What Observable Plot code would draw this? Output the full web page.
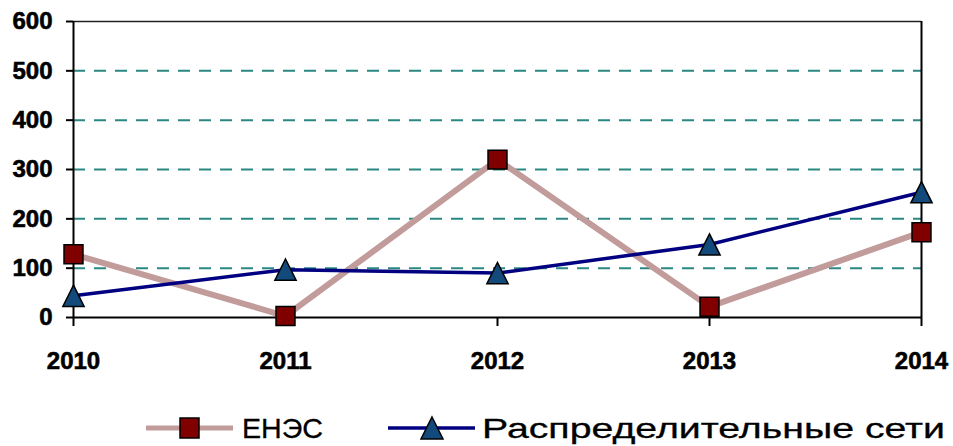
<!DOCTYPE html>
<html>
<head>
<meta charset="utf-8">
<script src="https://cdn.jsdelivr.net/npm/d3@7"></script>
<script src="https://cdn.jsdelivr.net/npm/@observablehq/plot@0.6"></script>
<style>
  html, body { margin: 0; padding: 0; background: #fff; }
  #wrap { position: relative; width: 953px; height: 446px; overflow: hidden; font-family: "Liberation Sans", Arial, sans-serif; }
  #legend { position: absolute; left: 0; top: 400px; width: 953px; height: 46px; }
  #legend svg { position: absolute; left: 0; top: 0; }
  #chart text { stroke: #000; stroke-width: 0.6px; }
  #legend text { stroke: #000; stroke-width: 0.3px; }
</style>
</head>
<body>
<div id="wrap">
  <div id="chart"></div>
  <div id="legend"></div>
</div>
<script>
const years = ["2010", "2011", "2012", "2013", "2014"];
const enes = [128, 3, 320, 22, 173];
const distrib = [44, 97, 90, 148, 254];
const yTicks = [0, 100, 200, 300, 400, 500, 600];
const seriesNames = ["ЕНЭС", "Распределительные сети"];

const enesData = years.map((y, i) => ({year: y, value: enes[i]}));
const distData = years.map((y, i) => ({year: y, value: distrib[i]}));

const enesLine = "#c29b9b";
const enesFill = "#800000";
const distLine = "#000080";
const distFill = "#134a7c";
const gridColor = "#2a8781";

// bbox-centered triangle
const triSymbol = {
  draw(ctx, size) {
    const w = Math.sqrt(size) * 1.5;
    const h = w * 1.0;
    ctx.moveTo(0, -h / 2);
    ctx.lineTo(w / 2, h / 2);
    ctx.lineTo(-w / 2, h / 2);
    ctx.closePath();
  }
};

const chart = Plot.plot({
  width: 953,
  height: 400,
  marginLeft: 73,
  marginRight: 32,
  marginTop: 21,
  marginBottom: 83,
  style: {fontFamily: "'Liberation Sans', Arial, sans-serif", background: "#fff", overflow: "visible"},
  x: {type: "point", domain: years, padding: 0},
  y: {domain: [0, 600]},
  marks: [
    Plot.gridY(yTicks.filter(d => d > 0 && d < 600), {stroke: gridColor, strokeOpacity: 1, strokeWidth: 2, strokeDasharray: "12,9"}),
    Plot.ruleY([600], {stroke: "#222", strokeWidth: 1.5}),
    Plot.ruleY([0], {stroke: "#000", strokeWidth: 2}),
    Plot.ruleX([years[0], years[years.length - 1]], {y1: 600, y2: 0, stroke: "#000", strokeWidth: 2}),
    Plot.axisY({ticks: yTicks, tickSize: 7, tickPadding: 14, fontSize: 24, fontWeight: "bold", fill: "#000", tickFormat: d => String(d), label: null, strokeWidth: 2}),
    Plot.axisX({tickSize: 9, tickPadding: 25, fontSize: 24, fontWeight: "bold", fill: "#000", label: null, strokeWidth: 2}),
    Plot.line(enesData, {x: "year", y: "value", stroke: enesLine, strokeWidth: 6}),
    Plot.line(distData, {x: "year", y: "value", stroke: distLine, strokeWidth: 3.5}),
    Plot.dot(enesData, {x: "year", y: "value", symbol: "square", r: 10.7, fill: enesFill, stroke: "#000", strokeWidth: 1.5}),
    Plot.dot(distData, {x: "year", y: "value", symbol: triSymbol, r: 8, fill: distFill, stroke: "#000", strokeWidth: 1.5})
  ]
});
document.getElementById("chart").appendChild(chart);

// Legend
const lg = d3.select("#legend").append("svg").attr("width", 953).attr("height", 46);
// ЕНЭС
lg.append("line").attr("x1", 146).attr("x2", 233).attr("y1", 28).attr("y2", 28).attr("stroke", enesLine).attr("stroke-width", 5);
lg.append("rect").attr("x", 180).attr("y", 18).attr("width", 19).attr("height", 20).attr("fill", enesFill).attr("stroke", "#000").attr("stroke-width", 1.5);
lg.append("text").attr("x", 242).attr("y", 38).attr("font-size", 28).attr("font-family", "'Liberation Sans', Arial, sans-serif").attr("fill", "#000").attr("textLength", 81).attr("lengthAdjust", "spacingAndGlyphs").text(seriesNames[0]);
// Распределительные сети
lg.append("line").attr("x1", 388).attr("x2", 475).attr("y1", 28).attr("y2", 28).attr("stroke", distLine).attr("stroke-width", 3.5);
lg.append("path").attr("d", "M432,17L443,39L421,39Z").attr("fill", distFill).attr("stroke", "#000").attr("stroke-width", 1.5);
lg.append("text").attr("x", 482).attr("y", 38).attr("font-size", 28).attr("font-family", "'Liberation Sans', Arial, sans-serif").attr("fill", "#000").attr("textLength", 463).attr("lengthAdjust", "spacingAndGlyphs").text(seriesNames[1]);
</script>
</body>
</html>
